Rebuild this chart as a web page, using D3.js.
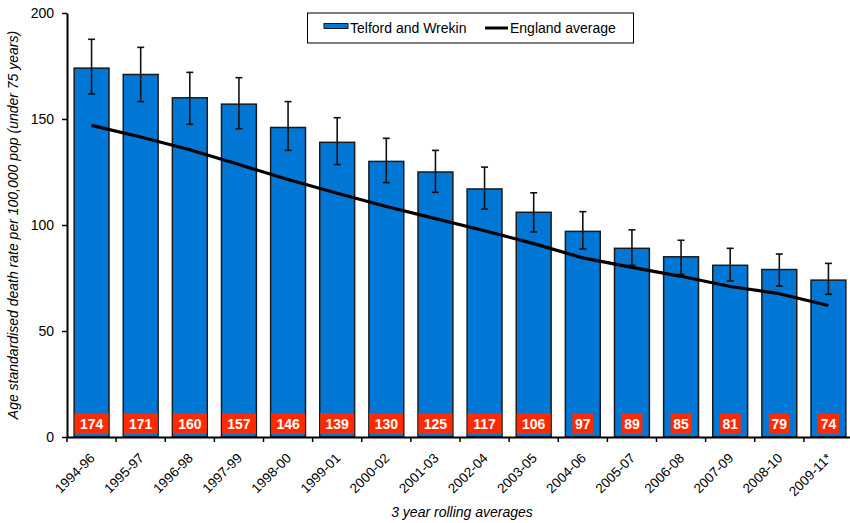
<!DOCTYPE html>
<html>
<head>
<meta charset="utf-8">
<script src="https://cdn.jsdelivr.net/npm/d3@7"></script>
<style>
  html, body { margin: 0; padding: 0; background: #fff; }
  svg text { font-family: "Liberation Sans", Arial, sans-serif; }
</style>
</head>
<body>
<div id="chart"></div>
<script>
// Three-year rolling periods
const periods = ["1994-96", "1995-97", "1996-98", "1997-99", "1998-00", "1999-01", "2000-02",
  "2001-03", "2002-04", "2003-05", "2004-06", "2005-07", "2006-08", "2007-09", "2008-10", "2009-11*"];

// Telford and Wrekin age standardised death rate (under 75)
const telford = [174, 171, 160, 157, 146, 139, 130, 125, 117, 106, 97, 89, 85, 81, 79, 74];

// 95% confidence limits
const ciLower = [161.8, 158.2, 147.5, 145.4, 135.2, 128.5, 120.0, 115.4, 107.5, 96.7, 88.7, 81.0, 76.7, 73.6, 71.2, 67.3];
const ciUpper = [187.6, 183.8, 172.0, 169.5, 158.2, 150.6, 140.9, 135.2, 127.3, 115.2, 106.3, 97.7, 92.8, 89.0, 86.3, 81.9];

// England average
const england = [147, 141.5, 135.5, 128.5, 121.5, 115, 108.7, 103, 97.3, 91.2, 84.5, 80, 75.8, 71, 67.6, 62];

const yTicks = [0, 50, 100, 150, 200];

const W = 850, H = 523;
const margin = { left: 67, right: -3, top: 13, bottom: 86 };

const svg = d3.select("#chart").append("svg")
  .attr("width", W).attr("height", H);

const x = d3.scaleBand()
  .domain(periods)
  .range([margin.left, W - margin.right])
  .paddingInner(0.29)
  .paddingOuter(0.145);

const y = d3.scaleLinear()
  .domain([0, 200])
  .range([H - margin.bottom, margin.top]);

const bandStep = x.step();

// Bars
svg.append("g").selectAll("rect")
  .data(periods)
  .join("rect")
  .attr("x", d => x(d))
  .attr("y", (d, i) => y(telford[i]))
  .attr("width", x.bandwidth())
  .attr("height", (d, i) => y(0) - y(telford[i]))
  .attr("fill", "#0077d5")
  .attr("stroke", "#1a1a1a")
  .attr("stroke-width", 1.5);

// Error bars
const eb = svg.append("g").attr("stroke", "#111").attr("stroke-width", 1.6);
periods.forEach((p, i) => {
  const cx = x(p) + x.bandwidth() / 2;
  eb.append("line").attr("x1", cx).attr("x2", cx).attr("y1", y(ciLower[i])).attr("y2", y(ciUpper[i]));
  eb.append("line").attr("x1", cx - 3.5).attr("x2", cx + 3.5).attr("y1", y(ciLower[i])).attr("y2", y(ciLower[i]));
  eb.append("line").attr("x1", cx - 3.5).attr("x2", cx + 3.5).attr("y1", y(ciUpper[i])).attr("y2", y(ciUpper[i]));
});

// England average line
const line = d3.line()
  .x((d, i) => x(periods[i]) + x.bandwidth() / 2)
  .y(d => y(d));
svg.append("path")
  .datum(england)
  .attr("d", line)
  .attr("fill", "none")
  .attr("stroke", "#000")
  .attr("stroke-width", 3.2)
  .attr("stroke-linejoin", "round");

// Value labels at bar base
const labels = svg.append("g");
periods.forEach((p, i) => {
  const cx = x(p) + x.bandwidth() / 2;
  const txt = String(telford[i]);
  const bw = 13 * txt.length - 5;
  labels.append("rect")
    .attr("x", cx - bw / 2).attr("y", y(0) - 24)
    .attr("width", bw).attr("height", 21)
    .attr("fill", "#ff2a00");
  labels.append("text")
    .attr("x", cx).attr("y", y(0) - 8.5)
    .attr("text-anchor", "middle")
    .attr("fill", "#fff")
    .attr("font-weight", "bold")
    .attr("font-size", 14)
    .text(txt);
});

// Y axis
const yAxis = svg.append("g")
  .attr("transform", `translate(${margin.left},0)`)
  .call(d3.axisLeft(y).tickValues(yTicks).tickSize(5).tickPadding(8).tickSizeOuter(0));
yAxis.select(".domain").attr("stroke", "#000").attr("stroke-width", 2);
yAxis.selectAll(".tick line").attr("stroke", "#000").attr("stroke-width", 1.5);
yAxis.selectAll(".tick text").attr("font-size", 14).attr("fill", "#000")
  .attr("font-family", "Liberation Sans, Arial, sans-serif");

// X axis
const xAxis = svg.append("g")
  .attr("transform", `translate(0,${y(0)})`)
  .call(d3.axisBottom(x).tickSize(0).tickSizeOuter(0));
xAxis.select(".domain").attr("stroke", "#000").attr("stroke-width", 2);
xAxis.selectAll(".tick text")
  .attr("font-size", 13.5)
  .attr("fill", "#000")
  .attr("font-family", "Liberation Sans, Arial, sans-serif")
  .attr("text-anchor", "end")
  .attr("dy", 0)
  .attr("transform", "translate(4,22) rotate(-45)")
  .attr("y", 0).attr("x", 0);
// Tick marks on band boundaries
xAxis.selectAll(".boundary")
  .data(d3.range(periods.length + 1))
  .join("line")
  .attr("class", "boundary")
  .attr("x1", i => margin.left + i * bandStep)
  .attr("x2", i => margin.left + i * bandStep)
  .attr("y1", 0).attr("y2", 5)
  .attr("stroke", "#000").attr("stroke-width", 1.5);

// Axis titles
svg.append("text")
  .attr("transform", `translate(18,${(y(0) + y(200)) / 2}) rotate(-90)`)
  .attr("text-anchor", "middle")
  .attr("font-size", 14)
  .attr("font-style", "italic")
  .text("Age standardised death rate per 100,000 pop (under 75 years)");

svg.append("text")
  .attr("x", 462).attr("y", 517)
  .attr("text-anchor", "middle")
  .attr("font-size", 14)
  .attr("font-style", "italic")
  .text("3 year rolling averages");

// Legend
const lg = svg.append("g");
lg.append("rect").attr("x", 307.5).attr("y", 13).attr("width", 326).attr("height", 30)
  .attr("fill", "#fff").attr("stroke", "#000").attr("stroke-width", 1);
lg.append("rect").attr("x", 324).attr("y", 23.5).attr("width", 24).attr("height", 5)
  .attr("fill", "#0077d5").attr("stroke", "#1a1a1a").attr("stroke-width", 1);
lg.append("text").attr("x", 350).attr("y", 33).attr("font-size", 14).text("Telford and Wrekin");
lg.append("line").attr("x1", 485).attr("x2", 508).attr("y1", 28).attr("y2", 28)
  .attr("stroke", "#000").attr("stroke-width", 3);
lg.append("text").attr("x", 510).attr("y", 33).attr("font-size", 14).text("England average");
</script>
</body>
</html>
